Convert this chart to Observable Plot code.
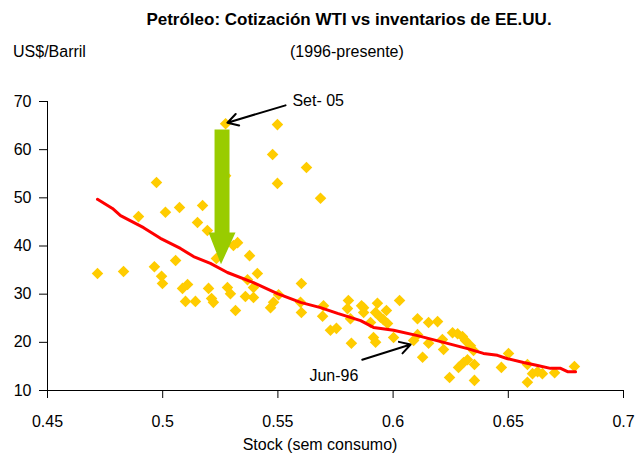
<!DOCTYPE html>
<html>
<head>
<meta charset="utf-8">
<script src="https://cdn.jsdelivr.net/npm/d3@7"></script>
<script src="https://cdn.jsdelivr.net/npm/@observablehq/plot@0.6"></script>
<style>
  body { margin: 0; background: #fff; }
  #wrap { position: relative; width: 637px; height: 457px; overflow: hidden;
          font-family: "Liberation Sans Narrow", "Arial Narrow", "Liberation Sans", sans-serif; color: #000; }
  .lbl { position: absolute; white-space: nowrap; line-height: 1; }
  #wrap svg { position: absolute; left: 0; top: 0; }
</style>
</head>
<body>
<div id="wrap">
  <div class="lbl" id="title" style="left:349px; top:11px; transform:translateX(-50%); font-weight:bold; font-size:17px;">Petróleo: Cotización WTI vs inventarios de EE.UU.</div>
  <div class="lbl" style="left:13px; top:44px; font-size:16px;">US$/Barril</div>
  <div class="lbl" style="left:290px; top:44px; font-size:16px;">(1996-presente)</div>
  <div class="lbl" style="left:320px; top:437px; transform:translateX(-50%); font-size:16px;">Stock (sem consumo)</div>
</div>
<script>
// ---- data ----
const stock = [0.4717,0.4830,0.4895,0.4973,0.4964,0.4995,0.4999,0.5012,0.5056,0.5073,
  0.5086,0.5108,0.5099,0.5142,0.5151,0.5173,0.5194,0.5199,0.5212,0.5220,
  0.5233,0.5273,0.5273,0.5281,0.5294,0.5307,0.5325,0.5316,0.5377,0.5368,
  0.5411,0.5359,0.5394,0.5394,0.5468,0.5481,0.5503,0.5477,0.5498,0.5498,
  0.5624,0.5685,0.5602,0.5602,0.5598,0.5698,0.5694,0.5728,0.5754,0.5806,
  0.5802,0.5815,0.5819,0.5863,0.5872,0.5902,0.5915,0.5924,0.5932,0.5924,
  0.5971,0.5958,0.5976,0.6028,0.6002,0.6106,0.6089,0.6128,0.6154,0.6193,
  0.6106,0.6154,0.6214,0.6219,0.6258,0.6280,0.6301,0.6314,0.6336,0.6349,
  0.6323,0.6306,0.6284,0.6353,0.6245,0.6353,0.6470,0.6501,0.6583,0.6605,
  0.6583,0.6627,0.6648,0.6701,0.6787,0.5945,0.5872];
const price = [34.3,34.7,46.1,53.2,35.7,33.7,32.2,47.0,37.0,48.0,
  31.2,32.0,28.5,28.5,44.9,48.4,43.2,31.2,29.1,28.3,
  37.4,65.4,54.6,31.4,30.1,40.1,40.7,26.6,38.0,33.0,
  34.3,29.5,31.4,29.3,27.2,28.3,29.9,59.0,65.2,53.0,
  56.3,49.9,32.2,26.2,28.3,27.6,25.4,22.5,22.9,28.7,
  27.0,24.9,19.8,27.6,26.2,24.1,21.0,20.0,28.1,26.2,
  26.6,24.7,23.9,28.7,21.0,24.9,20.4,16.9,24.1,24.3,
  21.6,19.8,20.6,18.5,22.0,21.8,21.2,20.4,19.3,18.3,
  16.4,15.8,14.8,15.4,12.7,12.1,14.8,17.7,15.4,13.5,
  11.7,13.9,13.5,13.7,15.0,25.2,27.2];

const fitStock = [0.4717,0.4782,0.4817,0.4917,0.4990,0.5077,0.5134,0.5207,0.5281,0.5394,
  0.5498,0.5598,0.5685,0.5759,0.5859,0.5915,0.6002,0.6106,0.6219,0.6323,
  0.6392,0.6453,0.6497,0.6566,0.6627,0.6683,0.6727,0.6757,0.6792];
const fitPrice = [49.7,47.8,46.3,43.8,41.6,39.5,37.8,36.4,34.5,32.4,
  30.1,28.3,27.2,26.0,24.5,23.1,22.5,21.4,20.0,18.7,
  17.7,17.3,16.6,15.8,15.2,14.6,14.6,13.9,13.9];

const xTicks = [0.45, 0.5, 0.55, 0.6, 0.65, 0.7];
const yTicks = [10, 20, 30, 40, 50, 60, 70];

// annotations
const greenArrowX = [0.5225, 0.5290, 0.5290, 0.5316, 0.5253, 0.5199, 0.5225, 0.5225];
const greenArrowY = [64.2, 64.2, 42.8, 42.8, 36.2, 42.8, 42.8, 64.2];
const noteLabels = ["Set- 05", "Jun-96"];
const noteTextX = [0.5563, 0.5637];
const noteTextY = [70.2, 13.1];
const noteFromX = [0.5533, 0.5866];
const noteFromY = [69.2, 16.4];
const noteToX = [0.5281, 0.6076];
const noteToY = [65.6, 19.55];

// ---- build tables ----
const points = stock.map((s, i) => ({s, p: price[i]}));
const fit = fitStock.map((s, i) => ({s, p: fitPrice[i]}));
const green = greenArrowX.map((s, i) => ({s, p: greenArrowY[i]}));
const notes = noteLabels.map((t, i) => ({t, x: noteTextX[i], y: noteTextY[i],
  x1: noteFromX[i], y1: noteFromY[i], x2: noteToX[i], y2: noteToY[i]}));

const font = '"Liberation Sans Narrow", "Arial Narrow", "Liberation Sans", sans-serif';

const chart = Plot.plot({
  width: 637,
  height: 457,
  marginTop: 101,
  marginBottom: 67,
  marginLeft: 47,
  marginRight: 14,
  x: {domain: [0.45, 0.7]},
  y: {domain: [10, 70]},
  style: {fontFamily: font, fontSize: "16px", color: "#000", background: "transparent"},
  marks: [
    Plot.ruleY([10], {stroke: "#000", strokeWidth: 1}),
    Plot.ruleX([0.45], {stroke: "#000", strokeWidth: 1}),
    Plot.axisX({ticks: xTicks, tickFormat: d => String(+d.toFixed(2)), tickSize: 8, tickPadding: 17, label: null, fontSize: 16}),
    Plot.axisY({ticks: yTicks, tickSize: 8, tickPadding: 8, label: null, fontSize: 16}),
    Plot.dot(points, {x: "s", y: "p", symbol: "diamond2", r: 5.2, fill: "#FFCC00", stroke: "none"}),
    Plot.line(fit, {x: "s", y: "p", stroke: "#FF0000", strokeWidth: 3}),
    Plot.line(green, {x: "s", y: "p", fill: "#99CC00", stroke: "none", curve: "linear"}),
    Plot.arrow(notes, {x1: "x1", y1: "y1", x2: "x2", y2: "y2", stroke: "#000", strokeWidth: 2, headLength: 9}),
    Plot.text(notes, {x: "x", y: "y", text: "t", textAnchor: "start", fontSize: 16, fill: "#000"})
  ]
});
document.getElementById("wrap").appendChild(chart);
</script>
</body>
</html>
